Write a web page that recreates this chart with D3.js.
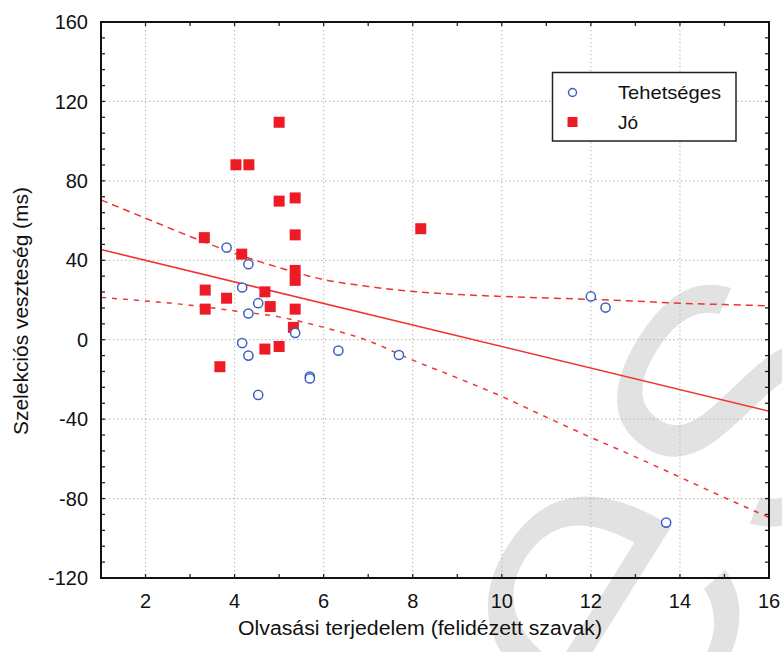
<!DOCTYPE html>
<html>
<head>
<meta charset="utf-8">
<script src="https://cdn.jsdelivr.net/npm/d3@7"></script>
<style>
  html, body { margin: 0; padding: 0; background: #fff; }
  svg { display: block; }
  text { font-family: "Liberation Sans", Arial, sans-serif; fill: #111; }
</style>
</head>
<body>
<script>
// Tehetséges group (open circles)
const tehetsegesX = [3.82, 4.31, 4.17, 4.53, 4.31, 5.36, 4.17, 4.31, 6.33, 5.69, 5.69, 4.53, 7.69, 12.0, 12.33, 13.69];
const tehetsegesY = [46.4, 38.0, 26.3, 18.4, 13.2, 3.4, -1.7, -8.0, -5.5, -18.6, -19.5, -27.8, -7.7, 21.8, 16.2, -92.1];

// Jó group (filled squares)
const joX = [5.0, 4.03, 4.32, 5.0, 5.36, 5.36, 3.32, 4.16, 5.36, 5.36, 3.34, 4.68, 3.82, 4.80, 3.34, 5.36, 5.32, 4.68, 5.0, 3.67, 8.18];
const joY = [109.5, 88.1, 88.1, 69.8, 71.4, 52.8, 51.4, 43.1, 34.9, 29.9, 25.0, 24.1, 20.9, 16.7, 15.4, 15.4, 6.2, -4.7, -3.4, -13.6, 55.9];

// Fitted regression line (end points)
const fitX = [1, 16];
const fitY = [45.4, -36.0];

// 95% confidence band of the fit
const bandX     = [1, 2, 3, 4, 5, 6, 7, 8, 9, 10, 11, 12, 13, 14, 15, 16];
const bandUpper = [70.4, 61.2, 52.0, 43.5, 36.3, 30.3, 26.8, 24.3, 22.8, 21.8, 21.0, 20.3, 19.4, 18.4, 17.7, 17.1];
const bandLower = [21.3, 19.5, 17.4, 14.5, 11.5, 6.2, -0.5, -10.3, -19.2, -28.6, -39.0, -49.2, -59.0, -69.2, -79.5, -89.5];

// Axis ticks and labels
const xLabelTicks = [2, 4, 6, 8, 10, 12, 14, 16];
const yLabelTicks = [-120, -80, -40, 0, 40, 80, 120, 160];
const xTitle = "Olvasási terjedelem (felidézett szavak)";
const yTitle = "Szelekciós veszteség (ms)";
const seriesNames = ["Tehetséges", "Jó"];

const W = 782, H = 652;
const plot = { left: 101, right: 769, top: 22, bottom: 578 };
const RED = "#ed1c24", BLUE = "#3f5fc4", LINE_RED = "#f03333";

const svg = d3.select("body").append("svg").attr("width", W).attr("height", H);
svg.append("rect").attr("width", W).attr("height", H).attr("fill", "#fff");

const x = d3.scaleLinear().domain([1, 16]).range([plot.left, plot.right]);
const y = d3.scaleLinear().domain([-120, 160]).range([plot.bottom, plot.top]);

// faint background lettering
svg.append("text")
  .attr("transform", "translate(648,790) rotate(-58)")
  .style("font-size", "470px")
  .style("fill", "#e2e2e2")
  .style("stroke", "#fff")
  .style("stroke-width", "9px")
  .text("es");

// dotted grid
const grid = svg.append("g").attr("stroke", "#b8b8b8").attr("stroke-width", 1.2).attr("stroke-dasharray", "1.3,2.7");
grid.selectAll("line.gx").data(xLabelTicks.filter(d => d < 16)).join("line")
  .attr("x1", d => x(d)).attr("x2", d => x(d)).attr("y1", plot.top).attr("y2", plot.bottom);
grid.selectAll("line.gy").data(yLabelTicks.filter(d => d > -120 && d < 160)).join("line")
  .attr("y1", d => y(d)).attr("y2", d => y(d)).attr("x1", plot.left).attr("x2", plot.right);

// inward ticks on all four sides
const tk = svg.append("g").attr("stroke", "#222").attr("stroke-width", 1.3);
const xMinor = d3.range(1, 17);
const yMinor = d3.range(-120, 161, 8);
xMinor.forEach(v => {
  tk.append("line").attr("x1", x(v)).attr("x2", x(v)).attr("y1", plot.bottom).attr("y2", plot.bottom - 4);
  tk.append("line").attr("x1", x(v)).attr("x2", x(v)).attr("y1", plot.top).attr("y2", plot.top + 4);
});
yMinor.forEach(v => {
  tk.append("line").attr("y1", y(v)).attr("y2", y(v)).attr("x1", plot.left).attr("x2", plot.left + 4);
  tk.append("line").attr("y1", y(v)).attr("y2", y(v)).attr("x1", plot.right).attr("x2", plot.right - 4);
});

// fit and confidence band
const band = d3.line().x(d => x(d[0])).y(d => y(d[1])).curve(d3.curveMonotoneX);
svg.append("path").datum(bandX.map((v, i) => [v, bandUpper[i]])).attr("d", band)
  .attr("fill", "none").attr("stroke", LINE_RED).attr("stroke-width", 1.5).attr("stroke-dasharray", "7,5");
svg.append("path").datum(bandX.map((v, i) => [v, bandLower[i]])).attr("d", band)
  .attr("fill", "none").attr("stroke", LINE_RED).attr("stroke-width", 1.5).attr("stroke-dasharray", "5,6");
svg.append("path").datum(fitX.map((v, i) => [v, fitY[i]])).attr("d", d3.line().x(d => x(d[0])).y(d => y(d[1])))
  .attr("fill", "none").attr("stroke", LINE_RED).attr("stroke-width", 1.6);

// points
const SQ = 11;
svg.append("g").selectAll("rect").data(joX.map((v, i) => [v, joY[i]])).join("rect")
  .attr("x", d => x(d[0]) - SQ / 2).attr("y", d => y(d[1]) - SQ / 2)
  .attr("width", SQ).attr("height", SQ).attr("fill", RED);
svg.append("g").selectAll("circle").data(tehetsegesX.map((v, i) => [v, tehetsegesY[i]])).join("circle")
  .attr("cx", d => x(d[0])).attr("cy", d => y(d[1])).attr("r", 4.6)
  .attr("fill", "#fff").attr("stroke", BLUE).attr("stroke-width", 1.5);

// frame
svg.append("rect").attr("x", plot.left).attr("y", plot.top)
  .attr("width", plot.right - plot.left).attr("height", plot.bottom - plot.top)
  .attr("fill", "none").attr("stroke", "#111").attr("stroke-width", 2);

// tick labels
svg.append("g").selectAll("text").data(xLabelTicks).join("text")
  .attr("x", d => x(d)).attr("y", 608).attr("text-anchor", "middle")
  .style("font-size", "20px").text(d => d);
svg.append("g").selectAll("text").data(yLabelTicks).join("text")
  .attr("x", 88).attr("y", d => y(d)).attr("dy", "0.36em").attr("text-anchor", "end")
  .style("font-size", "20px").text(d => d);

// axis titles
svg.append("text").attr("x", 420).attr("y", 635).attr("text-anchor", "middle")
  .style("font-size", "20px").attr("textLength", 364).attr("lengthAdjust", "spacingAndGlyphs").text(xTitle);
svg.append("text").attr("transform", "translate(28,311) rotate(-90)").attr("text-anchor", "middle")
  .style("font-size", "20px").attr("textLength", 248).attr("lengthAdjust", "spacingAndGlyphs").text(yTitle);

// legend
const lg = svg.append("g");
lg.append("rect").attr("x", 552.5).attr("y", 72.5).attr("width", 183.5).attr("height", 68.5)
  .attr("fill", "#fff").attr("stroke", "#222").attr("stroke-width", 1.5);
lg.append("circle").attr("cx", 572.5).attr("cy", 92.5).attr("r", 4)
  .attr("fill", "#fff").attr("stroke", BLUE).attr("stroke-width", 1.5);
lg.append("rect").attr("x", 567.5).attr("y", 117).attr("width", 10).attr("height", 10).attr("fill", RED);
lg.append("text").attr("x", 618).attr("y", 98.5).style("font-size", "19px")
  .attr("textLength", 103).attr("lengthAdjust", "spacingAndGlyphs").text(seriesNames[0]);
lg.append("text").attr("x", 618).attr("y", 129).style("font-size", "19px").text(seriesNames[1]);
</script>
</body>
</html>
